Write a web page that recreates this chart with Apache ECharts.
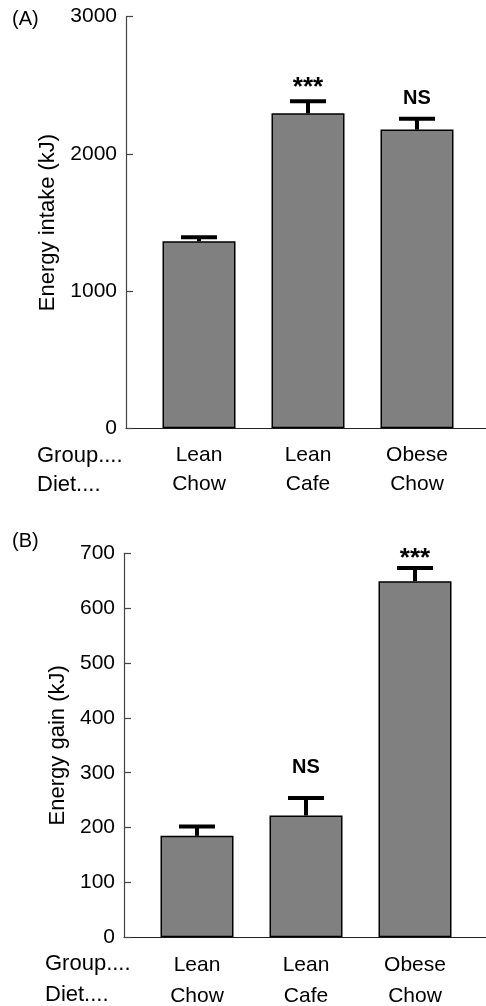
<!DOCTYPE html>
<html>
<head>
<meta charset="utf-8">
<script src="https://cdn.jsdelivr.net/npm/echarts@6/dist/echarts.min.js"></script>
<style>
html,body{margin:0;padding:0;background:#fff;}
#c{width:486px;height:1006px;}
</style>
</head>
<body>
<div id="c"></div>
<script>
// ---------- DATA ----------
const groups = ['Lean', 'Lean', 'Obese'];
const diets = ['Chow', 'Cafe', 'Chow'];
const intakeMean = [1363, 2296, 2177];
const intakeErr = [30, 88, 80];
const intakeSig = ['', '***', 'NS'];
const gainMean = [185, 222, 649];
const gainErr = [17, 32, 24];
const gainSig = ['', 'NS', '***'];
const intakeTicks = { min: 0, max: 3000, interval: 1000 };
const gainTicks = { min: 0, max: 700, interval: 100 };

// ---------- STYLE ----------
const FONT = 'Liberation Sans, Arial, Helvetica, sans-serif';
const intakeSigOffset = [0, 0, -10];   // px offsets of significance labels
const gainSigOffset = [0, -20, 4];

const categories = groups.map((g, i) => g + '\n' + diets[i]);

function errData(mean, err) {
  return mean.map((m, i) => [i, m, err[i]]);
}

function makeRender(sigs, offsets) {
  return function (params, api) {
    const i = api.value(0), m = api.value(1), e = api.value(2);
    const sig = sigs[i];
    const top = api.coord([i, m + e]);
    const base = api.coord([i, m]);
    const children = [
      { type: 'line', shape: { x1: top[0], y1: base[1], x2: top[0], y2: top[1] },
        style: { stroke: '#000', lineWidth: 4 } },
      { type: 'line', shape: { x1: top[0] - 18, y1: top[1], x2: top[0] + 18, y2: top[1] },
        style: { stroke: '#000', lineWidth: 4 } }
    ];
    if (sig) {
      const size = sig === '***' ? 26 : 20;
      children.push({ type: 'text', x: top[0], y: top[1] + offsets[i],
        style: { text: sig, fill: '#000', font: 'bold ' + size + 'px ' + FONT,
          textAlign: 'center', textVerticalAlign: 'bottom' } });
    }
    return { type: 'group', children: children };
  };
}

const frameX = (gi) => ({ type: 'value', gridIndex: gi, min: 0, max: 1,
  axisLine: { show: true, lineStyle: { color: '#222', width: 1.2 } },
  axisTick: { show: false }, axisLabel: { show: false }, splitLine: { show: false } });

const frameY = (gi, t, name, gap) => ({ type: 'value', gridIndex: gi, min: t.min, max: t.max, interval: t.interval,
  axisLine: { show: true, lineStyle: { color: '#444', width: 1.2 } },
  axisTick: { show: true, inside: true, length: 7, lineStyle: { color: '#444', width: 1.2 } },
  axisLabel: { color: '#000', fontSize: 21, fontFamily: FONT, margin: 9, formatter: (v) => String(v) },
  splitLine: { show: false },
  name: name, nameLocation: 'middle', nameGap: gap,
  nameTextStyle: { color: '#000', fontSize: 22, fontFamily: FONT } });

const barX = (gi, lh, margin) => ({ type: 'category', gridIndex: gi, data: categories,
  axisLine: { show: false }, axisTick: { show: false },
  axisLabel: { color: '#000', fontSize: 21, fontFamily: FONT, lineHeight: lh, margin: margin, interval: 0 } });

const barY = (gi, t) => ({ type: 'value', gridIndex: gi, min: t.min, max: t.max, interval: t.interval, show: false });

const barStyle = { color: '#808080', borderColor: '#000', borderWidth: 1.5 };
const plain = (size, lh) => ({ fontSize: size, lineHeight: lh, fontWeight: 'normal', fontFamily: FONT, color: '#000' });
const gridBox = (l, r, t, b) => ({ left: l, right: r, top: t, bottom: b, containLabel: false, outerBoundsMode: 'none' });

const option = {
  animation: false,
  backgroundColor: '#fff',
  title: [
    { text: '(A)', left: 12, top: 9, padding: 0, textStyle: plain(20, 20) },
    { text: '(B)', left: 12, top: 531, padding: 0, textStyle: plain(20, 20) },
    { text: 'Group....\nDiet....', left: 37, top: 441, padding: 0, textStyle: plain(22, 29) },
    { text: 'Group....\nDiet....', left: 45, top: 948, padding: 0, textStyle: plain(22, 31) }
  ],
  grid: [
    gridBox(126, 0, 16.7, 577.7),
    gridBox(144.5, 14.5, 16.7, 577.7),
    gridBox(124, 0, 553.3, 68.7),
    gridBox(142.5, 16.5, 553.3, 68.7)
  ],
  xAxis: [frameX(0), barX(1, 29, 12.5), frameX(2), barX(3, 31, 12.5)],
  yAxis: [
    frameY(0, intakeTicks, 'Energy intake (kJ)', 66),
    barY(1, intakeTicks),
    frameY(2, gainTicks, 'Energy gain (kJ)', 51),
    barY(3, gainTicks)
  ],
  series: [
    { type: 'bar', xAxisIndex: 1, yAxisIndex: 1, data: intakeMean, barWidth: 73, itemStyle: barStyle },
    { type: 'custom', xAxisIndex: 1, yAxisIndex: 1, data: errData(intakeMean, intakeErr),
      renderItem: makeRender(intakeSig, intakeSigOffset), encode: { x: 0, y: 1 }, z: 5 },
    { type: 'bar', xAxisIndex: 3, yAxisIndex: 3, data: gainMean, barWidth: 73, itemStyle: barStyle },
    { type: 'custom', xAxisIndex: 3, yAxisIndex: 3, data: errData(gainMean, gainErr),
      renderItem: makeRender(gainSig, gainSigOffset), encode: { x: 0, y: 1 }, z: 5 }
  ]
};

const chart = echarts.init(document.getElementById('c'), null, { renderer: 'canvas' });
chart.setOption(option);
</script>
</body>
</html>
